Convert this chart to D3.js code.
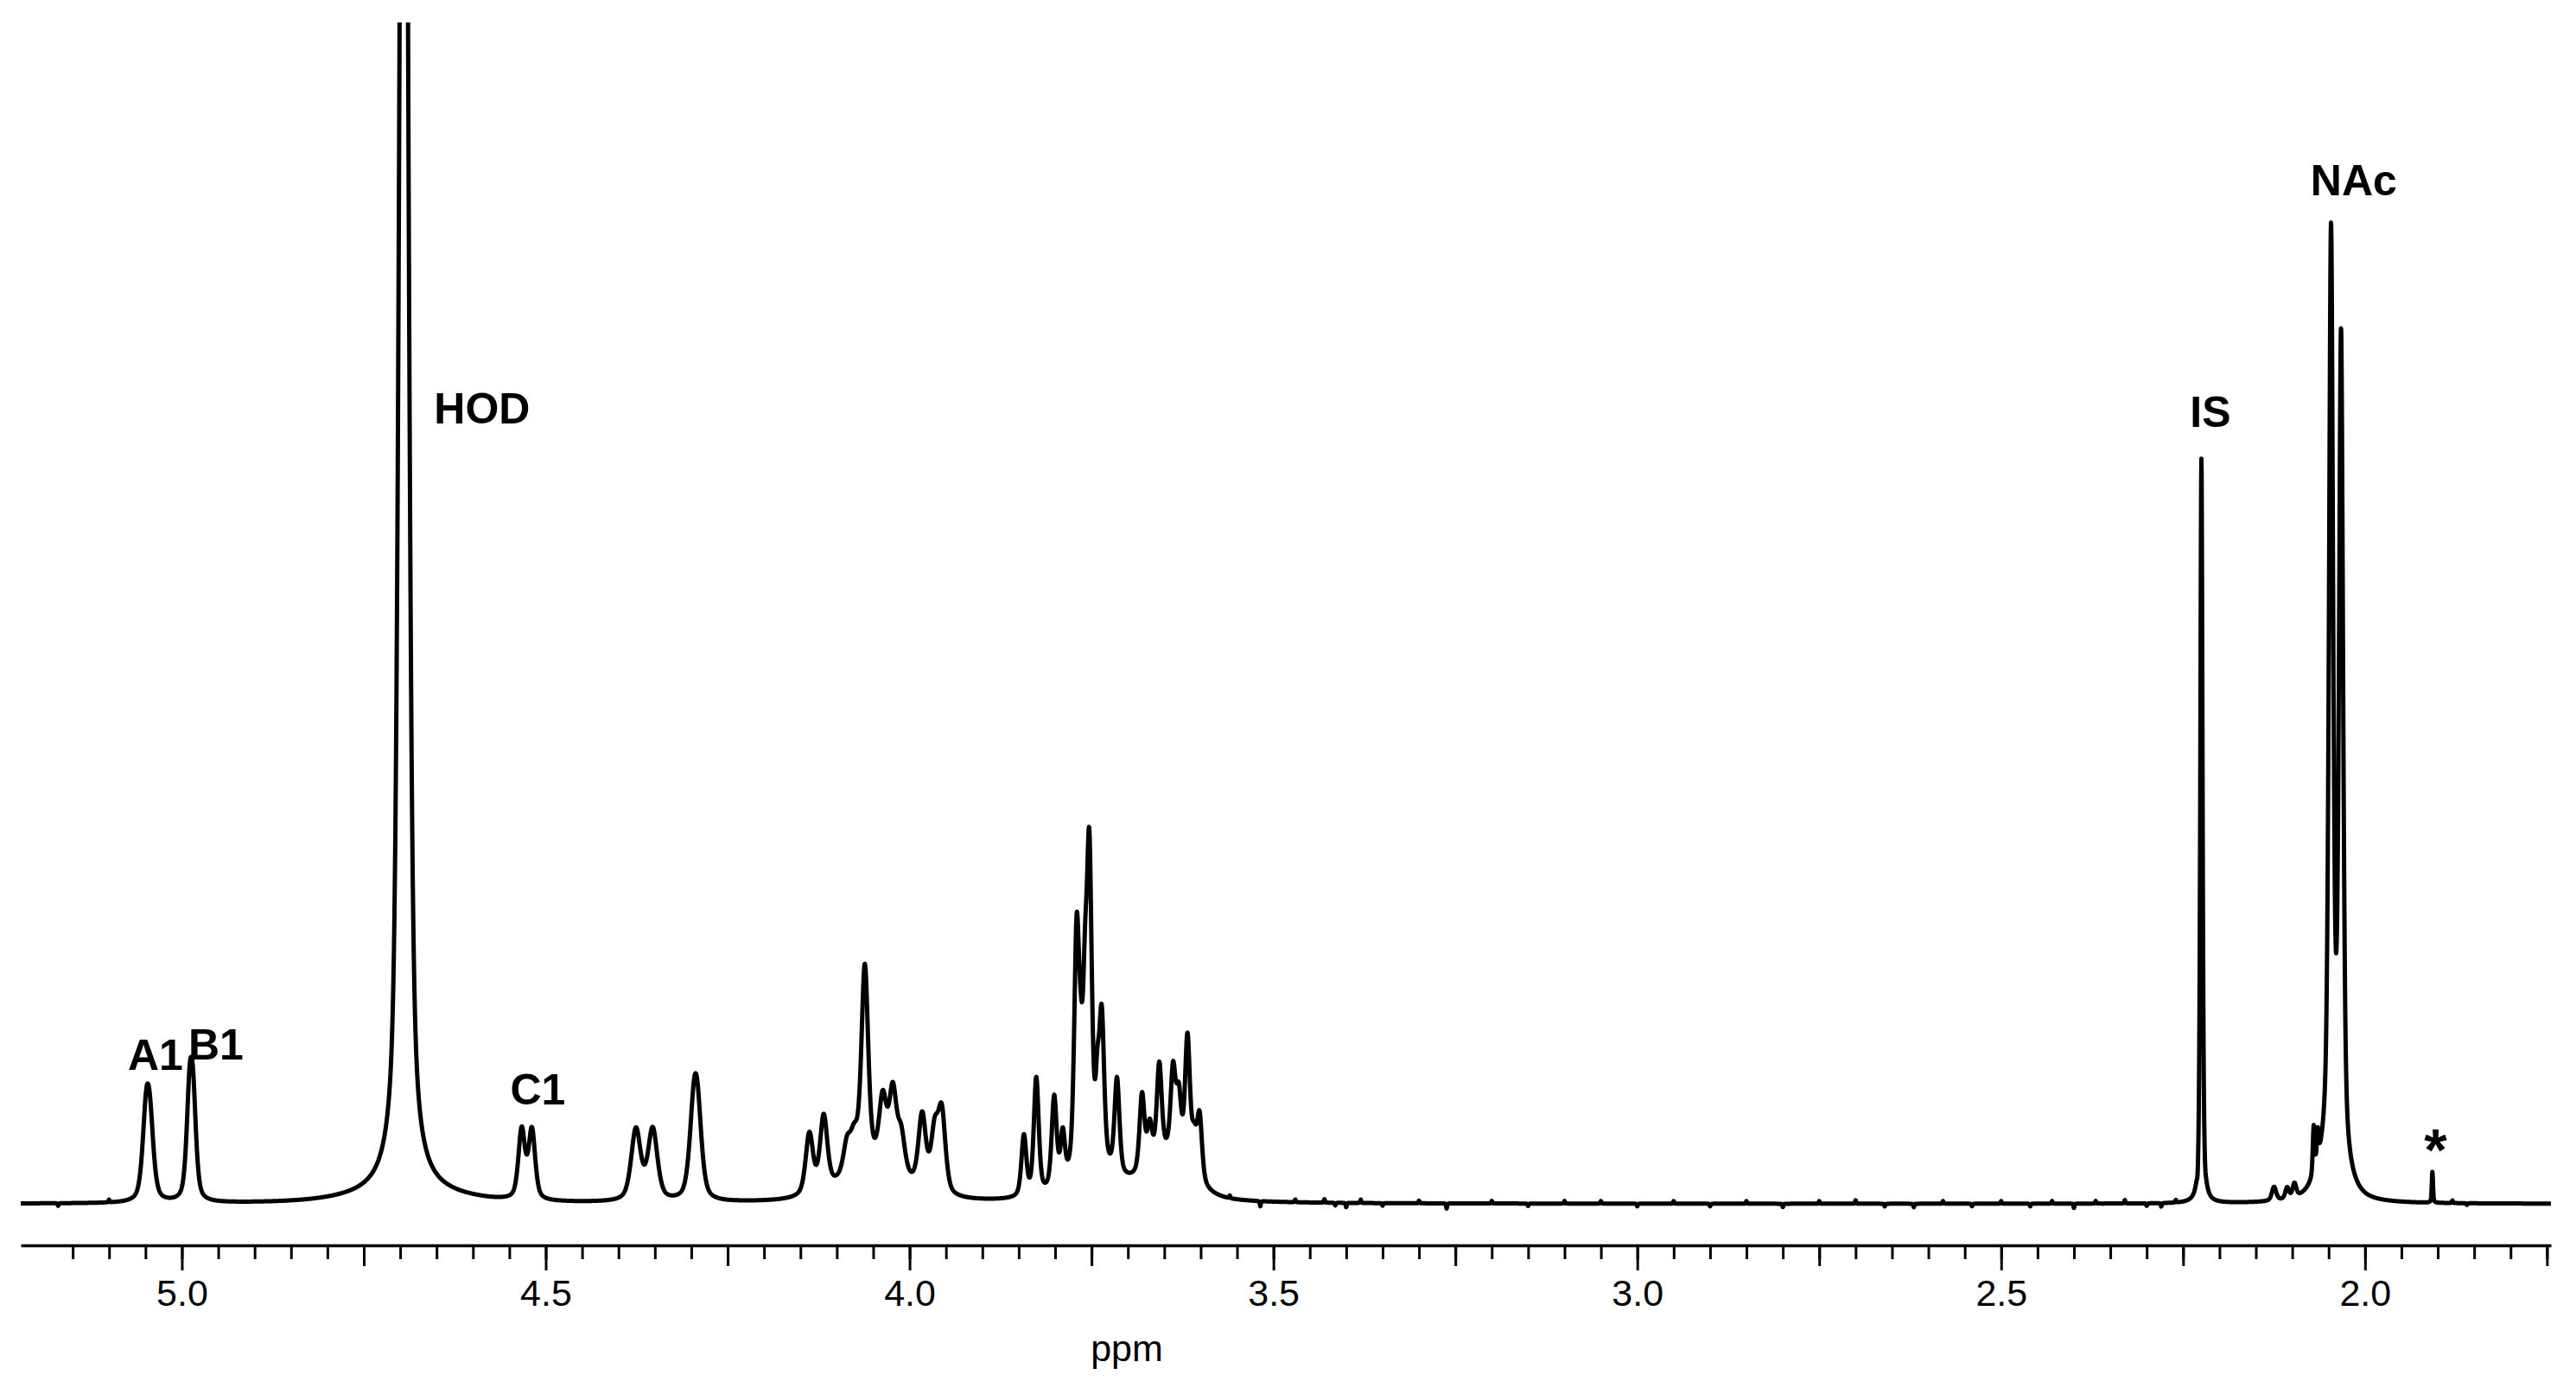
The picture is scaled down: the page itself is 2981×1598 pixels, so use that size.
<!DOCTYPE html>
<html>
<head>
<meta charset="utf-8">
<script src="https://cdn.jsdelivr.net/npm/d3@7"></script>
<style>
  html, body { margin: 0; padding: 0; background: #ffffff; }
  svg { display: block; }
</style>
</head>
<body>
<svg id="chart" width="2981" height="1598"></svg>
<script>
// ---------------- DATA ----------------
// Resonance lines: chemical shift (ppm), height (arb. units), half-width (ppm)
const peakPpm = [
  5.0490, 5.0435,                 // A1
  4.9895, 4.9845,                 // B1
  4.6950, 4.6900,                 // HOD (+ broad foot)
  4.5330, 4.5190,                 // C1
  4.3760, 4.3530,
  4.2965, 4.2915,
  4.0500,                         // envelope 4.15-3.94
  4.1377, 4.1180, 4.0860, 4.0760, 4.0615, 4.0368, 4.0230, 4.0115, 3.9827, 3.9656, 3.9557,
  3.7450, 3.6450,                 // envelopes 3.86-3.58
  3.8429, 3.8259, 3.8013, 3.7895, 3.7704, 3.7650, 3.7590, 3.7530, 3.7420, 3.7360, 3.7150,
  3.6806, 3.6700, 3.6569, 3.6379, 3.6300, 3.6181, 3.6090, 3.6015,
  2.2248, 2.2300, 2.2195,         // IS
  2.1250, 2.1070, 2.0970, 2.0705, 2.0650,
  2.0450, 2.0467, 2.0329,         // NAc
  1.9074,                         // *
  // baseline noise
  5.170, 5.100, 3.560, 3.518, 3.470, 3.430, 3.415, 3.400, 3.380, 3.350, 3.300, 3.262,
  3.200, 3.150, 3.100, 3.050, 3.000, 2.950, 2.900, 2.850, 2.800, 2.750, 2.700, 2.660,
  2.620, 2.580, 2.540, 2.500, 2.460, 2.430, 2.400, 2.370, 2.330, 2.300, 2.280, 2.260,
  1.880, 1.860
];
const peakHeight = [
  9.2, 7.0,
  10.5, 10.0,
  240, 1.2,
  8.0, 8.0,
  8.2, 8.2,
  8.2, 8.2,
  4.0,
  7.0, 8.5, 3.5, 3.5, 23.0, 7.6, 9.0, 4.5, 8.4, 6.5, 9.1,
  3.2, 5.0,
  7.0, 13.5, 10.5, 5.5, 27.0, 8.0, 16.0, 35.0, 7.0, 17.0, 11.0,
  8.9, 4.5, 10.7, 9.7, 7.0, 15.1, 4.0, 7.5,
  86.2, -1.2, -0.5,
  1.6, 1.3, 1.6, 5.5, 3.5,
  6.0, 105, 94,
  3.6,
  -0.3, 0.3, 0.3, -0.6, 0.3, 0.4, -0.3, -0.5, 0.4, -0.3, 0.3, -0.6,
  0.3, -0.3, 0.3, 0.3, -0.3, 0.3, -0.3, 0.3, -0.4, 0.3, 0.4, -0.3,
  -0.4, 0.3, -0.3, 0.3, -0.3, 0.3, -0.5, 0.3, 0.4, -0.3, -0.4, 0.3,
  0.3, -0.2
];
const peakWidth = [
  0.0060, 0.0060,
  0.0050, 0.0050,
  0.0065, 0.0800,
  0.0053, 0.0053,
  0.0077, 0.0077,
  0.0071, 0.0071,
  0.0500,
  0.0060, 0.0060, 0.0060, 0.0060, 0.0055, 0.0060, 0.0060, 0.0060, 0.0060, 0.0060, 0.0060,
  0.0400, 0.0350,
  0.0040, 0.0040, 0.0040, 0.0035, 0.0040, 0.0035, 0.0035, 0.0040, 0.0030, 0.0040, 0.0040,
  0.0040, 0.0040, 0.0040, 0.0040, 0.0040, 0.0040, 0.0040, 0.0040,
  0.0018, 0.0010, 0.0010,
  0.0035, 0.0030, 0.0030, 0.0015, 0.0015,
  0.0200, 0.0033, 0.0033,
  0.0010,
  0.0008, 0.0008, 0.0008, 0.0008, 0.0008, 0.0008, 0.0008, 0.0008, 0.0008, 0.0008, 0.0008, 0.0008,
  0.0008, 0.0008, 0.0008, 0.0008, 0.0008, 0.0008, 0.0008, 0.0008, 0.0008, 0.0008, 0.0008, 0.0008,
  0.0008, 0.0008, 0.0008, 0.0008, 0.0008, 0.0008, 0.0008, 0.0008, 0.0008, 0.0008, 0.0008, 0.0008,
  0.0008, 0.0008
];
const lorentzFraction = 0.5;      // pseudo-Voigt mixing

// Axis ticks
const majorTicks = [5.0, 4.5, 4.0, 3.5, 3.0, 2.5, 2.0];
const majorTickLabels = ["5.0", "4.5", "4.0", "3.5", "3.0", "2.5", "2.0"];
const mediumTicks = [4.75, 4.25, 3.75, 3.25, 2.75, 2.25, 1.75];
const minorTicks = d3.range(0, 69).map(i => +(5.15 - i * 0.05).toFixed(2));
const axisTitle = "ppm";

// Peak annotations
const labelText = ["A1", "B1", "HOD", "C1", "IS", "NAc", "*"];
const labelPpm = [5.0362, 4.9531, 4.5874, 4.5108, 2.2125, 2.0154, 1.9030];
const labelIntensity = [15.5, 16.7, 90.3, 11.5, 89.9, 116.7, 3.9];

// ---------------- LAYOUT ----------------
const W = 2981, H = 1598;
const plotLeft = 24, plotRight = 2952;
const plotTop = 26, baselineY = 1393, axisY = 1441;
const font = "'Liberation Sans', Arial, Helvetica, sans-serif";

const svg = d3.select("#chart");
svg.append("rect").attr("width", W).attr("height", H).attr("fill", "#ffffff");

const x = d3.scaleLinear().domain([5.2214, 1.7445]).range([plotLeft, plotRight]);
const y = d3.scaleLinear().domain([0, 136.7]).range([baselineY, plotTop]);

// spectrum = sum of the listed lines (pseudo-Voigt line shape)
function intensityAt(p) {
  let s = 0;
  for (let i = 0; i < peakPpm.length; i++) {
    const t = (p - peakPpm[i]) / peakWidth[i];
    const t2 = t * t;
    if (t2 > 40000) continue;
    s += peakHeight[i] * (lorentzFraction / (1 + t2) + (1 - lorentzFraction) * Math.exp(-Math.LN2 * t2));
  }
  return s;
}
const samples = d3.range(plotLeft, plotRight + 0.001, 0.25).map(px => {
  const p = x.invert(px);
  return [p, intensityAt(p)];
});

svg.append("clipPath").attr("id", "plotClip")
  .append("rect").attr("x", 0).attr("y", plotTop).attr("width", W).attr("height", H - plotTop);

const line = d3.line().x(d => x(d[0])).y(d => y(d[1]));
svg.append("path")
  .attr("clip-path", "url(#plotClip)")
  .attr("d", line(samples))
  .attr("fill", "none")
  .attr("stroke", "#000")
  .attr("stroke-width", 5)
  .attr("stroke-linejoin", "round");

// ---------------- AXIS ----------------
function styleAxis(g) {
  g.attr("font-family", font).attr("font-size", 43);
  g.selectAll(".tick line").attr("stroke", "#000").attr("stroke-width", 3);
  g.select(".domain").attr("stroke", "#000").attr("stroke-width", 3.5);
}
const gMinor = svg.append("g").attr("transform", `translate(0,${axisY})`)
  .call(d3.axisBottom(x).tickValues(minorTicks).tickSize(16).tickSizeOuter(0).tickFormat(""));
styleAxis(gMinor);
const gMed = svg.append("g").attr("transform", `translate(0,${axisY})`)
  .call(d3.axisBottom(x).tickValues(mediumTicks).tickSize(24).tickSizeOuter(0).tickFormat(""));
styleAxis(gMed); gMed.select(".domain").remove();
const gMajor = svg.append("g").attr("transform", `translate(0,${axisY})`)
  .call(d3.axisBottom(x).tickValues(majorTicks).tickSize(29).tickSizeOuter(0).tickPadding(10)
    .tickFormat((d, i) => majorTickLabels[i]));
styleAxis(gMajor); gMajor.select(".domain").remove();
gMajor.selectAll(".tick text").attr("fill", "#000");

svg.append("text")
  .attr("x", 1304).attr("y", 1575)
  .attr("text-anchor", "middle")
  .attr("font-family", font).attr("font-size", 43).attr("fill", "#000")
  .text(axisTitle);

// ---------------- PEAK LABELS ----------------
svg.append("g").selectAll("text")
  .data(labelText)
  .join("text")
  .attr("x", (d, i) => x(labelPpm[i]))
  .attr("y", (d, i) => y(labelIntensity[i]))
  .attr("text-anchor", "middle")
  .attr("font-family", font)
  .attr("font-weight", "bold")
  .attr("font-size", d => d === "*" ? 68 : 50)
  .attr("fill", "#000")
  .text(d => d);
</script>
</body>
</html>
